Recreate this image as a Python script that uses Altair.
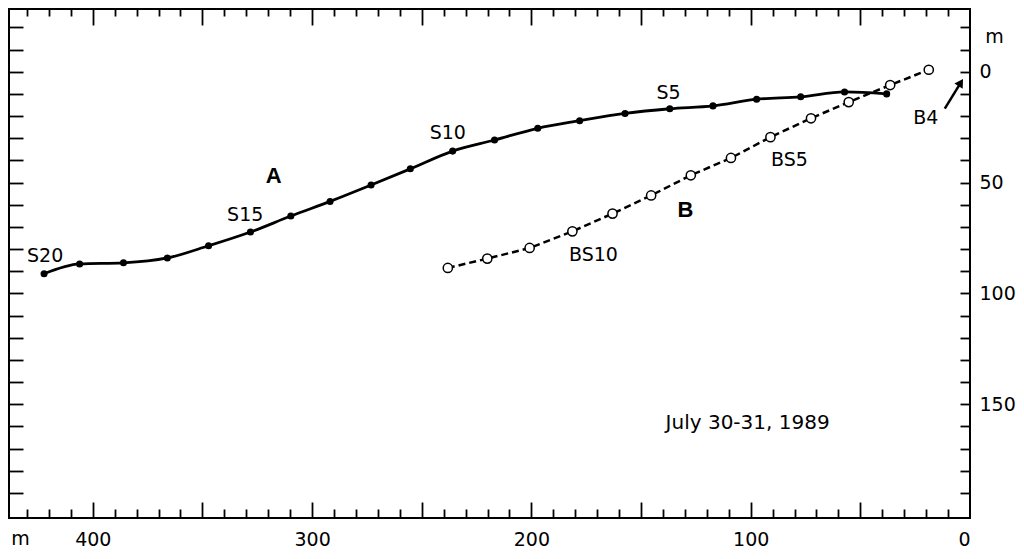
import altair as alt
import pandas as pd

# ---- data (distance m, depth m) ----
a_x = [422.2, 406.0, 386.0, 366.0, 347.2, 328.1, 309.7, 291.8, 273.1, 255.2, 235.9,
       216.8, 197.1, 178.0, 157.3, 136.9, 117.2, 97.3, 77.2, 57.2, 38.0]
a_y = [91.1, 86.7, 86.2, 84.0, 78.5, 72.3, 65.1, 58.5, 51.1, 43.8, 35.8,
       30.8, 25.5, 22.1, 18.8, 16.7, 15.4, 12.4, 11.3, 9.1, 10.0]

b_x = [238.1, 220.1, 200.8, 181.3, 163.0, 145.4, 127.3, 109.0, 91.0, 72.5, 55.3, 36.4, 18.8]
b_y = [88.5, 84.3, 79.5, 72.0, 64.0, 55.8, 46.7, 38.9, 29.5, 21.0, 13.7, 6.0, -0.9]

lab_text = ["S20", "S15", "S10", "S5", "BS10", "BS5", "B4"]
lab_x = [421.7, 330.5, 238.1, 137.5, 171.7, 82.3, 20.2]
lab_y = [83.1, 64.6, 27.6, 9.6, 82.7, 39.8, 20.7]

date_text = ["July 30-31, 1989"]
date_x = [101.4]
date_y = [158.3]

bold_text = ["A", "B"]
bold_x = [317.5, 129.7]
bold_y = [47.0, 62.4]

arrow_tail = [11.5, 16.6]
arrow_head = [4.2, 4.9]

x_label_values = [0, 100, 200, 300, 400]
x_tick_values = list(range(10, 440, 10))
y_label_values = [0, 50, 100, 150]
y_tick_values = list(range(-20, 200, 10))

W, H = 961, 509
FONT = "DejaVu Sans"

df_a = pd.DataFrame({"x": a_x, "y": a_y})
df_b = pd.DataFrame({"x": b_x, "y": b_y})
df_lab = pd.DataFrame({"x": lab_x, "y": lab_y, "t": lab_text})
df_date = pd.DataFrame({"x": date_x, "y": date_y, "t": date_text})
df_bold = pd.DataFrame({"x": bold_x, "y": bold_y, "t": bold_text})
df_arrow = pd.DataFrame({"x": [arrow_tail[0]], "y": [arrow_tail[1]],
                         "x2": [arrow_head[0]], "y2": [arrow_head[1]]})

xs = alt.Scale(domain=[0, 438.2], reverse=True, nice=False, zero=False)
ys = alt.Scale(domain=[-28.3, 201.3], reverse=True, nice=False, zero=False)

major_cond = {"condition": {"test": "datum.value % 50 === 0", "value": 16}, "value": 9}
major_cond_top = {"condition": {"test": "datum.value % 50 === 0", "value": 16}, "value": 7}

common = dict(grid=False, labelFont=FONT, labelFontSize=19, labelColor="black",
              tickColor="black", tickWidth=1.8)

ax_bottom_labels = alt.Axis(orient="bottom", values=x_label_values, ticks=False, domain=False,
                            labelPadding=12, title="m", titleX=11, titleY=26,
                            titleBaseline="alphabetic", titleAlign="center",
                            titleFontWeight="normal", titleFontSize=19, titleFont=FONT,
                            titleColor="black", **common)
ax_right_labels = alt.Axis(orient="right", values=y_label_values, ticks=False, domain=False,
                           labelPadding=9, labelAlign="left", labelBaseline="middle",
                           title="m", titleAngle=0, titleX=24, titleY=33,
                           titleBaseline="alphabetic", titleAlign="center",
                           titleFontWeight="normal", titleFontSize=19, titleFont=FONT,
                           titleColor="black", **common)

# ticks pointing inward: axes placed on the opposite edge by negative offset
ax_bottom_ticks = alt.Axis(orient="top", offset=-H, values=x_tick_values, labels=False,
                           domain=False, tickSize=major_cond, title=None, **common)
ax_right_ticks = alt.Axis(orient="left", offset=-W, values=y_tick_values, labels=False,
                          domain=False, tickSize=10, title=None, **common)
ax_top_ticks = alt.Axis(orient="bottom", offset=-H, values=x_tick_values, labels=False,
                        domain=False, tickSize=major_cond_top, title=None, **common)
ax_left_ticks = alt.Axis(orient="right", offset=-W, values=y_tick_values, labels=False,
                         domain=False, tickSize=14, title=None, **common)

line_a = alt.Chart(df_a).mark_line(color="black", strokeWidth=2.8, interpolate="monotone").encode(
    x=alt.X("x:Q", scale=xs, axis=ax_bottom_labels),
    y=alt.Y("y:Q", scale=ys, axis=ax_right_labels),
    order=alt.Order("x:Q", sort="descending"),
)
pts_a = alt.Chart(df_a).mark_circle(color="black", size=50, opacity=1).encode(
    x=alt.X("x:Q", scale=xs, axis=ax_bottom_ticks),
    y=alt.Y("y:Q", scale=ys, axis=ax_right_ticks),
)
line_b = alt.Chart(df_b).mark_line(color="black", strokeWidth=2.5, strokeDash=[7, 4]).encode(
    x=alt.X("x:Q", scale=xs, axis=ax_top_ticks),
    y=alt.Y("y:Q", scale=ys, axis=ax_left_ticks),
    order=alt.Order("x:Q", sort="descending"),
)
pts_b = alt.Chart(df_b).mark_point(shape="circle", filled=True, fill="white", stroke="black",
                                   strokeWidth=1.5, size=85, opacity=1).encode(
    x=alt.X("x:Q", scale=xs, axis=None),
    y=alt.Y("y:Q", scale=ys, axis=None),
)
labels = alt.Chart(df_lab).mark_text(font=FONT, fontSize=19, color="black",
                                     align="center", baseline="middle").encode(
    x=alt.X("x:Q", scale=xs, axis=None),
    y=alt.Y("y:Q", scale=ys, axis=None),
    text="t:N",
)
date_label = alt.Chart(df_date).mark_text(font=FONT, fontSize=20, color="black",
                                          align="center", baseline="middle").encode(
    x=alt.X("x:Q", scale=xs, axis=None),
    y=alt.Y("y:Q", scale=ys, axis=None),
    text="t:N",
)
bold_labels = alt.Chart(df_bold).mark_text(font="Liberation Sans", fontSize=22, fontWeight="bold",
                                           color="black", align="center", baseline="middle").encode(
    x=alt.X("x:Q", scale=xs, axis=None),
    y=alt.Y("y:Q", scale=ys, axis=None),
    text="t:N",
)
arrow_line = alt.Chart(df_arrow).mark_rule(color="black", strokeWidth=2.5).encode(
    x=alt.X("x:Q", scale=xs, axis=None),
    y=alt.Y("y:Q", scale=ys, axis=None),
    x2="x2:Q", y2="y2:Q",
)
arrow_head_mark = alt.Chart(df_arrow).mark_point(shape="triangle-up", filled=True, color="black",
                                                 size=95, angle=32, opacity=1).encode(
    x=alt.X("x2:Q", scale=xs, axis=None),
    y=alt.Y("y2:Q", scale=ys, axis=None),
)

chart = alt.layer(line_a, pts_a, line_b, pts_b, labels, date_label, bold_labels,
                  arrow_line, arrow_head_mark).resolve_axis(
    x="independent", y="independent"
).properties(
    width=W, height=H, background="white",
    padding={"left": 0, "top": 0, "right": 0, "bottom": 0}
).configure_view(
    stroke="black", strokeWidth=2
)

chart.save("out.html", embed_options={"renderer": "svg", "actions": False})
